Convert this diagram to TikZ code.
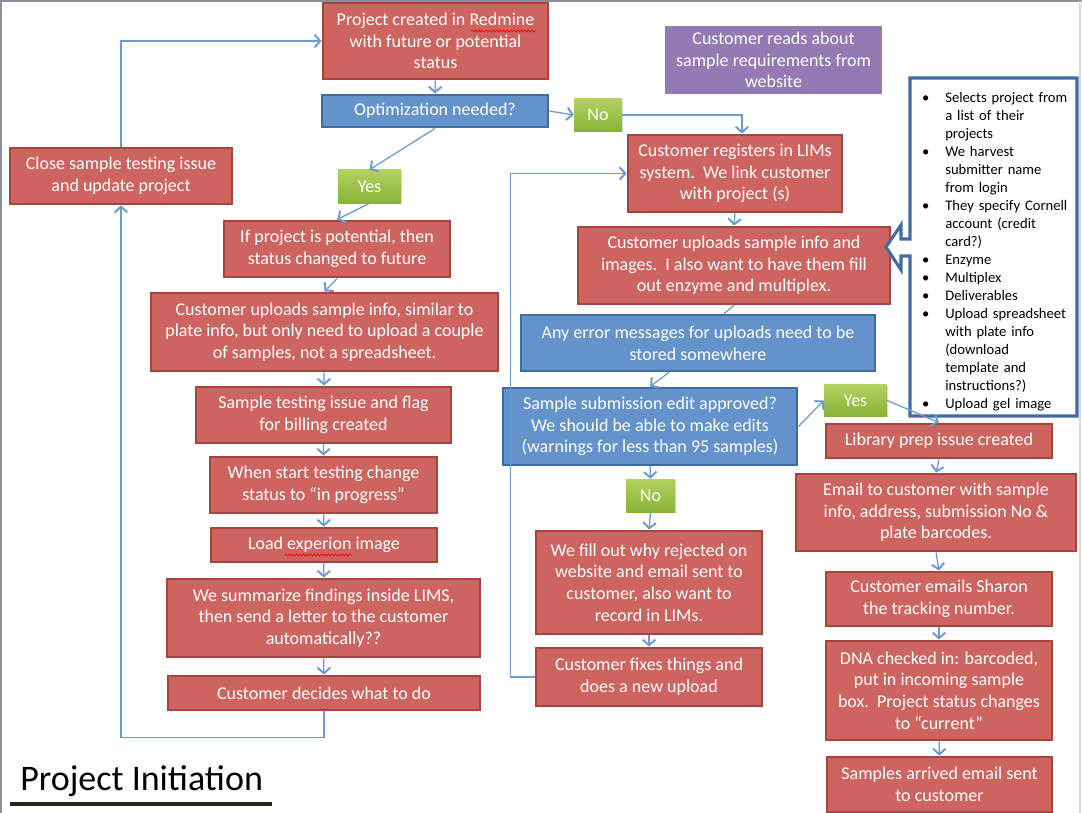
\documentclass[tikz,border=0pt]{standalone}
\usepackage{fontspec}
\setmainfont{Carlito}
\usepackage{tikz}
\usetikzlibrary{arrows.meta, shadows, decorations.pathmorphing}
\definecolor{ladrillo}{RGB}{206, 100, 95}
\definecolor{ladrilloOsc}{RGB}{166, 68, 64}
\definecolor{acero}{RGB}{99, 147, 202}
\definecolor{aceroOsc}{RGB}{62, 108, 163}
\definecolor{limaClara}{RGB}{178, 210, 96}
\definecolor{lima}{RGB}{138, 178, 56}
\definecolor{lila}{RGB}{148, 122, 181}
\definecolor{cielo}{RGB}{106, 155, 209}
\definecolor{marco}{RGB}{138, 143, 153}
\definecolor{tinta}{RGB}{40, 38, 26}
\tikzset{
    paso/.style={draw=ladrilloOsc, fill=ladrillo, line width=2pt, text=white, align=center, inner sep=1pt, font=\fontsize{12.8}{15.4}\selectfont},
    preg/.style={paso, draw=aceroOsc, fill=acero},
    resp/.style={draw=none, top color=limaClara, bottom color=lima, text=white, align=center, inner sep=1pt, font=\fontsize{12.8}{15.4}\selectfont, drop shadow={opacity=0.25, shadow xshift=0.6pt, shadow yshift=-0.8pt}},
    aviso/.style={fill=lila, draw=white, line width=2.5pt, text=white, align=center, font=\fontsize{12.8}{15.4}\selectfont, drop shadow={opacity=0.3, shadow xshift=0.8pt, shadow yshift=-0.8pt}},
    conn/.style={-{Straight Barb[length=4pt, width=9pt, line width=1.4pt]}, cielo, line width=0.9pt},
    connPlain/.style={-, cielo, line width=0.9pt},
    typo/.style={red, line width=0.5pt, decorate, decoration={snake, segment length=2.5pt, amplitude=0.7pt}},
}

\begin{document}
\begin{tikzpicture}[x=0.025cm, y=-0.025cm]
    \useasboundingbox (0,0) rectangle (1082,813);
    \draw[marco, line width=2pt] (1,813) -- (1,1) -- (1082,1);
    \draw[gray!30, line width=1pt] (1080,1) -- (1080,813);

    \node[paso, minimum width=5.625cm, minimum height=1.9cm] (proj) at (435.5,41) {Project created in Redmine\\with future or potential\\status};
    \node[preg, minimum width=5.65cm, minimum height=0.8cm] (opt) at (435,111) {Optimization needed?};
    \node[resp, minimum width=1.2cm, minimum height=0.8cm] (no) at (598,115) {No};
    \node[aviso, minimum width=5.5cm, minimum height=1.8cm] (web) at (773.5,60) {Customer reads about\\sample requirements from\\website};
    \node[paso, minimum width=5.55cm, minimum height=1.4cm] (close) at (121,176) {Close sample testing issue\\and update project};
    \node[resp, minimum width=1.575cm, minimum height=0.825cm] (yes) at (369.5,186.5) {Yes};
    \node[paso, minimum width=5.35cm, minimum height=1.925cm] (reg) at (735,173.5) {Customer registers in LIMs\\system.\ \ We link customer\\with project (s)};
    \node[paso, minimum width=5.65cm, minimum height=1.4cm] (pot) at (337,249) {If project is potential, then\\status changed to future};
    \node[paso, minimum width=7.8cm, minimum height=1.925cm] (upB) at (734,265.5) {Customer uploads sample info and\\images.\ \ I also want to have them fill\\out enzyme and multiplex.};
    \node[paso, minimum width=8.675cm, minimum height=1.95cm] (upA) at (324.5,332) {Customer uploads sample info, similar to\\plate info, but only need to upload a couple\\of samples, not a spreadsheet.};
    \node[preg, minimum width=8.85cm, minimum height=1.4cm] (err) at (698,343) {Any error messages for uploads need to be\\stored somewhere};
    \node[paso, minimum width=6.375cm, minimum height=1.4cm] (test) at (323.5,415) {Sample testing issue and flag\\for billing created};
    \node[preg, minimum width=7.35cm, minimum height=1.925cm] (ok) at (650,426.5) {Sample submission edit approved?\\We should be able to make edits\\(warnings for less than 95 samples)};
    \node[resp, minimum width=1.575cm, minimum height=0.775cm] (yesB) at (855.5,400.5) {Yes};
    \node[paso, minimum width=5.65cm, minimum height=0.85cm] (lib) at (939,441) {Library prep issue created};
    \node[paso, minimum width=5.675cm, minimum height=1.4cm] (prog) at (323.5,485) {When start testing change\\status to “in progress”};
    \node[resp, minimum width=1.225cm, minimum height=0.825cm] (noB) at (650.5,495.5) {No};
    \node[paso, minimum width=7.0cm, minimum height=1.925cm] (mail) at (936,512.5) {Email to customer with sample\\info, address, submission No \&\\plate barcodes.};
    \node[paso, minimum width=5.65cm, minimum height=0.85cm] (load) at (324,545) {Load experion image};
    \node[paso, minimum width=5.65cm, minimum height=2.575cm] (fill) at (649,582.5) {We fill out why rejected on\\website and email sent to\\customer, also want to\\record in LIMs.};
    \node[paso, minimum width=7.825cm, minimum height=1.95cm] (summ) at (323.5,618) {We summarize findings inside LIMS,\\then send a letter to the customer\\automatically??};
    \node[paso, minimum width=5.65cm, minimum height=1.35cm] (track) at (939,599) {Customer emails Sharon\\the tracking number.};
    \node[paso, minimum width=5.65cm, minimum height=1.45cm] (fix) at (649,677) {Customer fixes things and\\does a new upload};
    \node[paso, minimum width=5.65cm, minimum height=2.475cm] (dna) at (939,690.5) {DNA checked in: barcoded,\\put in incoming sample\\box.\ \ Project status changes\\to “current”};
    \node[paso, minimum width=7.8cm, minimum height=0.85cm] (decide) at (324,693) {Customer decides what to do};
    \node[paso, minimum width=5.625cm, minimum height=1.375cm] (arr) at (939.5,784.5) {Samples arrived email sent\\to customer};

    \draw[typo] (471,31) -- (536,31);
    \draw[typo] (285,555) -- (352,555);

    \draw[aceroOsc, line width=2.2pt, fill=white] (910,78) -- (1077,78) -- (1077,416) -- (910,416) -- (910,256) -- (901,256) -- (901,270) -- (886,247) -- (901,225) -- (901,239) -- (910,239) -- cycle;
    \node[anchor=north west, text width=4cm, inner sep=0pt, font=\fontsize{10.4}{12.8}\selectfont] (lista) at (918,84) {\raggedright
        \begin{list}{\textbullet}{\leftmargin=0.675cm \labelwidth=0.3cm \labelsep=0.4cm \itemsep=0pt \parsep=0pt \topsep=0pt \partopsep=0pt}
        \item Selects project from\\a list of their\\projects
        \item We harvest\\submitter name\\from login
        \item They specify Cornell\\account (credit\\card?)
        \item Enzyme
        \item Multiplex
        \item Deliverables
        \item Upload spreadsheet\\with plate info\\(download\\template and\\instructions?)
        \item Upload gel image
        \end{list}};

    \node[anchor=base west, inner sep=0pt, font=\fontsize{25.6}{30}\selectfont] (titulo) at (20,790) {Project Initiation};
    \draw[tinta, line width=2.8pt] (10,804) -- (272,804);

    \draw[conn] (proj) -- (opt);
    \draw[conn] (opt.east) -- (no.west);
    \draw[conn] (no.east) -| ([xshift=0.175cm]reg.north);
    \draw[conn] (opt.south) -- (yes.north);
    \draw[conn] (yes.south) -- (pot.north);
    \draw[conn] (pot.south) -- (upA.north);
    \draw[conn] (upA) -- (test);
    \draw[conn] (test) -- (prog);
    \draw[conn] (prog) -- (load);
    \draw[conn] (load) -- (summ);
    \draw[conn] (summ) -- (decide);
    \draw[conn] (decide.south) -- ++(0,26) -| (close.south);
    \draw[conn] (close.north) |- (proj.west);

    \draw[conn] (reg.south) -- (upB.north);
    \draw[connPlain] (upB.south) -- ([xshift=0.65cm]err.north);
    \draw[conn] ([xshift=-0.725cm]err.south) -- (ok.north);
    \draw[conn] (ok.east) -- (yesB.west);
    \draw[conn] (yesB.east) -- (lib.north);
    \draw[conn] (ok.south) -- (noB.north);
    \draw[conn] (noB.south) -- (fill.north);
    \draw[conn] (fill) -- (fix);
    \draw[conn] (fix.west) -- ++(-24,0) |- (reg.west);
    \draw[conn] (lib.south) -- (mail.north);
    \draw[conn] (mail.south) -- (track.north);
    \draw[conn] (track) -- (dna);
    \draw[conn] (dna) -- (arr);
\end{tikzpicture}
\end{document}
